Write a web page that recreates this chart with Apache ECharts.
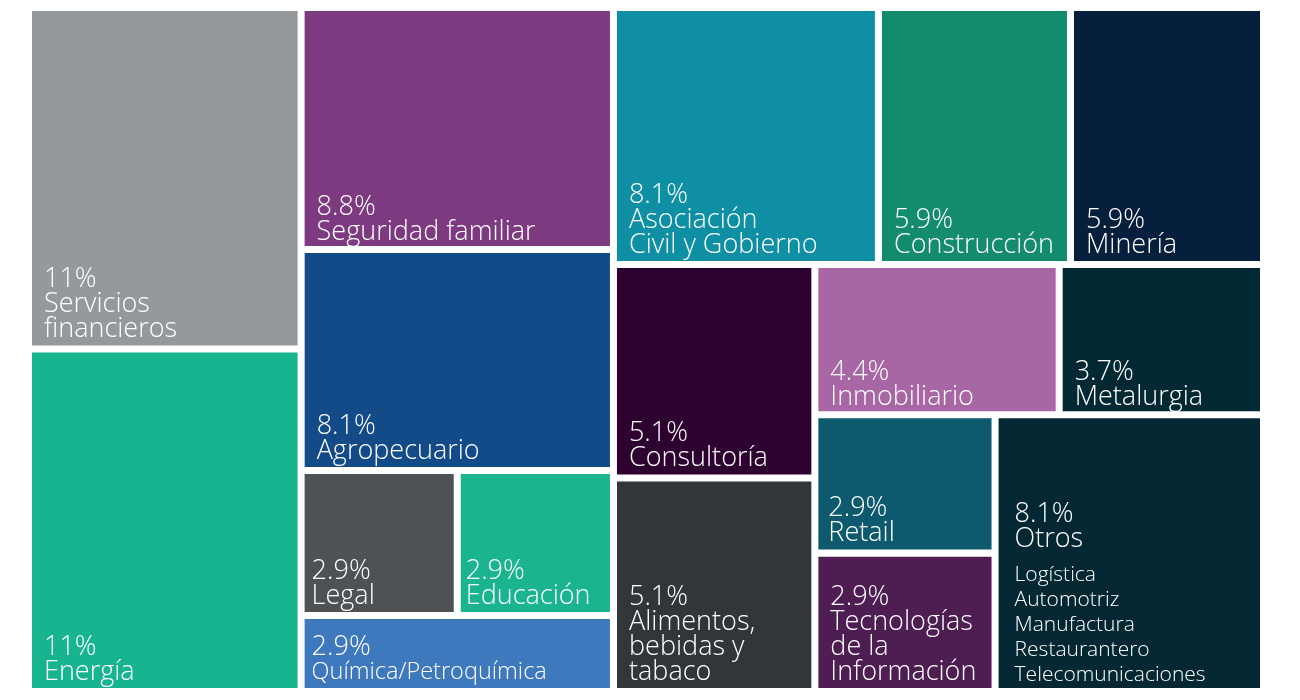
<!DOCTYPE html>
<html>
<head>
<meta charset="utf-8">
<script src="https://cdn.jsdelivr.net/npm/echarts@6/dist/echarts.min.js"></script>
<style>
  html, body { margin: 0; padding: 0; background: #ffffff; }
  #chart { width: 1300px; height: 700px; }
</style>
</head>
<body>
<div id="chart"></div>
<script>
// ---- Data ----
const sectors = [
  'Servicios financieros', 'Energía', 'Seguridad familiar', 'Agropecuario',
  'Legal', 'Educación', 'Química/Petroquímica', 'Asociación Civil y Gobierno',
  'Construcción', 'Minería', 'Consultoría', 'Alimentos, bebidas y tabaco',
  'Inmobiliario', 'Metalurgia', 'Retail', 'Tecnologías de la Información', 'Otros'
];
// share of total (%), estimated from the drawn areas
const shares = [10.98, 11.01, 8.91, 8.14, 2.67, 2.67, 2.80, 8.03, 5.82, 5.85,
  5.07, 5.07, 4.33, 3.62, 2.94, 2.94, 8.76];
// printed labels
const shareLabels = ['11%', '11%', '8.8%', '8.1%', '2.9%', '2.9%', '2.9%', '8.1%', '5.9%', '5.9%',
  '5.1%', '5.1%', '4.4%', '3.7%', '2.9%', '2.9%', '8.1%'];
const nameLines = [
  ['Servicios', 'financieros'], ['Energía'], ['Seguridad familiar'], ['Agropecuario'],
  ['Legal'], ['Educación'], ['Química/Petroquímica'], ['Asociación', 'Civil y Gobierno'],
  ['Construcción'], ['Minería'], ['Consultoría'], ['Alimentos,', 'bebidas y', 'tabaco'],
  ['Inmobiliario'], ['Metalurgia'], ['Retail'], ['Tecnologías', 'de la', 'Información'], ['Otros']
];
const otrosDetail = ['Logística', 'Automotriz', 'Manufactura', 'Restaurantero', 'Telecomunicaciones'];

// ---- Styles ----
const colors = ['#96999b', '#17b58f', '#7e3a81', '#134a88', '#4f5254', '#1ab58f', '#3f79bd',
  '#0e8fa3', '#138b6d', '#061f3c', '#2d0230', '#333638', '#a866a5', '#022833', '#0d5a6f',
  '#4e1e52', '#032834'];
const smallNameIdx = [6];
const LINE_H = 25, SPACER_H = 11, PAD_BOTTOM = 3.5, PAD_LEFT = 12;
const padLeftOverride = { 4: 7, 5: 5, 6: 7, 14: 10, 16: 16 };
const padBottomOverride = { 2: 1.5, 12: 1.5, 13: 1, 16: 0.5 };

// grouping of cells ('|' = row break)
const grouping = [
  [0, '|', 1], '|',
  [2, '|', 3, '|', [[4, '|', 5], 6]], '|',
  [7, 8, 9, '|', [10, '|', 11], '|', [[12, '|', 13], [[14, '|', 15], '|', 16]]]
];

const FONT = "'Open Sans', 'Noto Sans', sans-serif";

function labelText(i) {
  let s = '{p|' + shareLabels[i] + '}';
  const st = smallNameIdx.indexOf(i) >= 0 ? 'ns' : 'n';
  nameLines[i].forEach(l => { s += '\n{' + st + '|' + l + '}'; });
  if (i === 16) {
    s += '\n{sp| }';
    otrosDetail.forEach(l => { s += '\n{li|' + l + '}'; });
  }
  return s;
}
function contentHeight(i) {
  let h = LINE_H * (1 + nameLines[i].length);
  if (i === 16) h += SPACER_H + LINE_H * otrosDetail.length;
  return h;
}
function padL(i) { return padLeftOverride[i] != null ? padLeftOverride[i] : PAD_LEFT; }
function padB(i) { return padBottomOverride[i] != null ? padBottomOverride[i] : PAD_BOTTOM; }

function build(node, pads) {
  if (node === '|') {
    return {
      name: '', value: 0.001,
      itemStyle: { color: 'rgba(0,0,0,0)', borderWidth: 0 },
      label: { show: false }, emphasis: { disabled: true }, silent: true
    };
  }
  if (Array.isArray(node)) {
    return { name: '', children: node.map(n => build(n, pads)) };
  }
  const item = {
    name: sectors[node], value: shares[node], idx: node,
    itemStyle: { color: colors[node] },
    label: { padding: pads && pads[node] ? pads[node] : [0, 0, padB(node), padL(node)] }
  };
  return item;
}

const chart = echarts.init(document.getElementById('chart'));
function makeOption(pads) {
  return {
    backgroundColor: '#ffffff',
    animation: false,
    series: [{
      type: 'treemap',
      left: 32, top: 11, width: 1228, height: 677,
      roam: false, nodeClick: false,
      breadcrumb: { show: false },
      sort: false,
      squareRatio: 3,
      itemStyle: { gapWidth: 7, borderWidth: 0, borderColor: '#ffffff' },
      upperLabel: { show: false },
      label: {
        show: true,
        position: 'insideBottomLeft',
        distance: 0,
        overflow: 'none',
        color: '#ffffff',
        fontFamily: FONT,
        fontWeight: 300,
        formatter: function (p) {
          return (p.data && p.data.idx != null) ? labelText(p.data.idx) : '';
        },
        rich: {
          p: { fontSize: 27, lineHeight: LINE_H, color: '#fff', fontFamily: FONT, fontWeight: 300 },
          n: { fontSize: 27, lineHeight: LINE_H, color: '#fff', fontFamily: FONT, fontWeight: 300 },
          ns: { fontSize: 23.5, lineHeight: LINE_H, color: '#fff', fontFamily: FONT, fontWeight: 300 },
          sp: { fontSize: 4, lineHeight: SPACER_H },
          li: { fontSize: 21, lineHeight: LINE_H, color: '#fff', fontFamily: FONT, fontWeight: 300 }
        }
      },
      data: grouping.map(n => build(n, pads))
    }]
  };
}

chart.setOption(makeOption(null));

// push each label to the bottom of its cell, using the cell size laid out by ECharts
try {
  const data = chart.getModel().getSeriesByIndex(0).getData();
  const pads = {};
  for (let k = 0; k < data.count(); k++) {
    const raw = data.getRawDataItem(k);
    const lay = data.getItemLayout(k);
    if (raw && raw.idx != null && lay) {
      const i = raw.idx;
      const top = Math.max(lay.height - contentHeight(i) - padB(i) - 0.01, 0);
      pads[i] = [top, 0, padB(i), padL(i)];
    }
  }
  chart.setOption(makeOption(pads), true);
} catch (e) {
  console.error(e);
}
</script>
</body>
</html>
